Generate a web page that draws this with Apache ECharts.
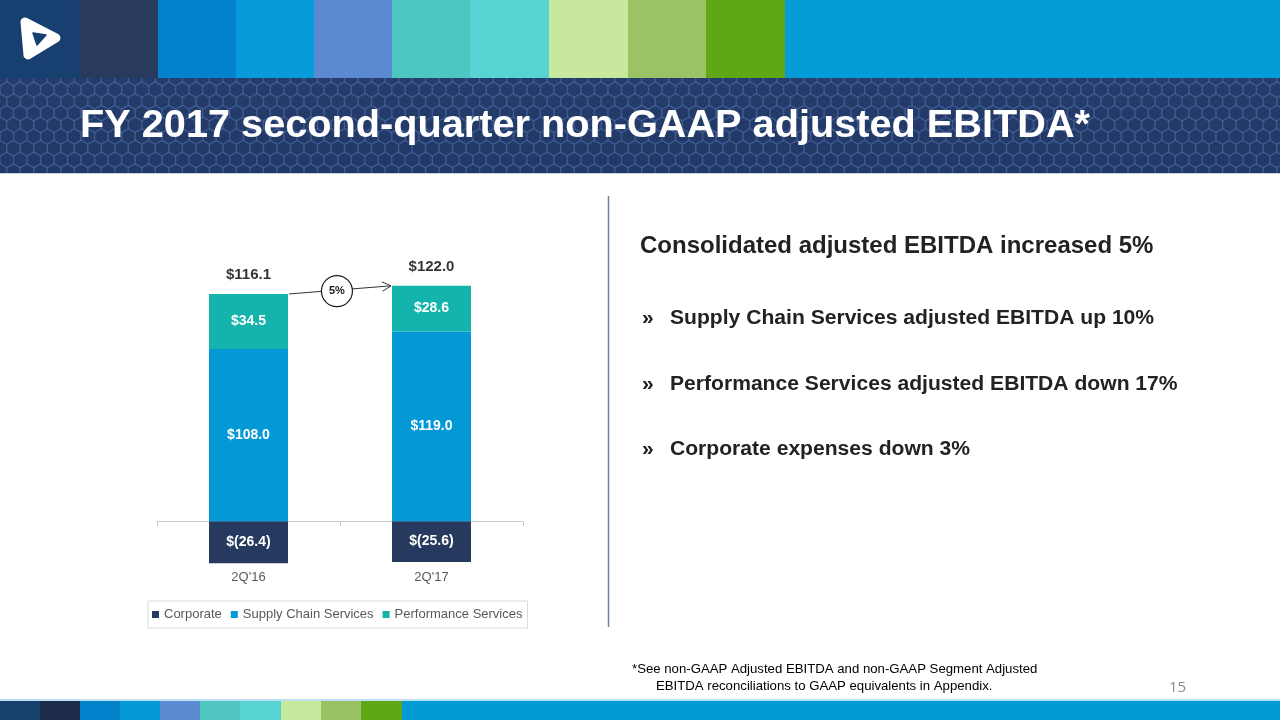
<!DOCTYPE html>
<html><head><meta charset="utf-8">
<script src="https://cdn.jsdelivr.net/npm/echarts@6/dist/echarts.min.js"></script>
<style>html,body{margin:0;padding:0;background:#fff}#c{width:1280px;height:720px}</style>
</head><body><div id="c"></div>
<script>
// ---- data ----
const categories = ["2Q'16", "2Q'17"];
const seriesNames = ['Corporate', 'Supply Chain Services', 'Performance Services'];
const corporate = [-26.4, -25.6];
const supplyChain = [108.0, 119.0];
const performance = [34.5, 28.6];
const totals = [116.1, 122.0];
const growthLabel = '5%';
const titleText = 'FY 2017 second-quarter non-GAAP adjusted EBITDA*';
const headline = 'Consolidated adjusted EBITDA increased 5%';
const bullets = [
  'Supply Chain Services adjusted EBITDA up 10%',
  'Performance Services adjusted EBITDA down 17%',
  'Corporate expenses down 3%'
];
const footLines = [
  '*See non-GAAP Adjusted EBITDA and non-GAAP Segment Adjusted',
  'EBITDA reconciliations to GAAP equivalents in Appendix.'
];
const pageNumber = '15';

// ---- styling ----
const FONT = '"Liberation Sans", Arial, sans-serif';
const colCorp = '#253a5e', colSupply = '#0499d6', colPerf = '#14b4ad';
const BAR_W = 79;
const topBlocks = [
  [0, 79, '#173f6f'], [79, 79, '#283a5e'], [158, 78, '#0383cd'], [236, 78, '#079bd9'],
  [314, 78, '#5b8ad1'], [392, 78, '#4ec6c1'], [470, 79, '#56d3d2'], [549, 79, '#c7e89d'],
  [628, 78, '#99c364'], [706, 79, '#5fa716'], [785, 495, '#059bd6']
];
const botBlocks = [
  [0, 40, '#17416f'], [40, 40, '#1c2b47'], [80, 40, '#0381cb'], [120, 40, '#0698d7'],
  [160, 40, '#5b8bd0'], [200, 40, '#50c6c0'], [240, 41, '#57d3d2'], [281, 40, '#c7e99d'],
  [321, 40, '#99c264'], [361, 41, '#60a717'], [402, 878, '#039bd6']
];

function hexCanvas(w, h) {
  const c = document.createElement('canvas');
  c.width = w; c.height = h;
  const g = c.getContext('2d');
  const grd = g.createLinearGradient(0, 0, 0, h);
  grd.addColorStop(0, '#253d6c'); grd.addColorStop(1, '#223866');
  g.fillStyle = grd; g.fillRect(0, 0, w, h);
  const r = 7.8, hw = Math.sqrt(3) * r, vs = 1.5 * r;
  g.strokeStyle = 'rgba(78,110,168,0.38)'; g.lineWidth = 1.4;
  for (let row = -1; row * vs < h + r; row++) {
    const off = (row % 2 ? hw / 2 : 0);
    for (let col = -1; col * hw < w + hw; col++) {
      const cx = col * hw + off, cy = row * vs;
      g.beginPath();
      for (let k = 0; k < 6; k++) {
        const a = Math.PI / 180 * (60 * k - 90);
        const px = cx + r * Math.cos(a), py = cy + r * Math.sin(a);
        k ? g.lineTo(px, py) : g.moveTo(px, py);
      }
      g.closePath(); g.stroke();
    }
  }
  return c;
}

const chart = echarts.init(document.getElementById('c'), null, { renderer: 'canvas' });

const graphics = [];
topBlocks.forEach(b => graphics.push({ type: 'rect', silent: true, shape: { x: b[0], y: 0, width: b[1], height: 78 }, style: { fill: b[2] } }));
graphics.push({ type: 'image', silent: true, style: { image: hexCanvas(1280, 95), x: 0, y: 78, width: 1280, height: 95 } });
graphics.push({ type: 'rect', silent: true, shape: { x: 0, y: 173, width: 1280, height: 1 }, style: { fill: '#c9d1de' } });
// logo
graphics.push({ type: 'polygon', silent: true, shape: { points: [[25, 22], [56, 38], [28, 55]] }, style: { fill: '#ffffff', stroke: '#ffffff', lineWidth: 9, lineJoin: 'round' } });
graphics.push({ type: 'polygon', silent: true, shape: { points: [[33, 33], [46, 35], [37, 45]] }, style: { fill: '#173f6f', stroke: '#173f6f', lineWidth: 1.5, lineJoin: 'round' } });
graphics.push({ type: 'text', silent: true, style: { text: titleText, x: 80, y: 126, font: 'bold 39.7px ' + FONT, fill: '#ffffff', textVerticalAlign: 'middle' } });
// divider
graphics.push({ type: 'line', silent: true, shape: { x1: 608.5, y1: 196, x2: 608.5, y2: 627 }, style: { stroke: '#6f82a6', lineWidth: 1.5 } });
// right text
graphics.push({ type: 'text', silent: true, style: { text: headline, x: 640, y: 246, font: 'bold 24px ' + FONT, fill: '#222222', textVerticalAlign: 'middle' } });
const bulletY = [318, 384, 449];
bullets.forEach((t, i) => {
  graphics.push({ type: 'text', silent: true, style: { text: '»', x: 642, y: bulletY[i], font: 'bold 21px ' + FONT, fill: '#222222', textVerticalAlign: 'middle' } });
  graphics.push({ type: 'text', silent: true, style: { text: t, x: 670, y: bulletY[i], font: 'bold 21.1px ' + FONT, fill: '#222222', textVerticalAlign: 'middle' } });
});
// footnote
graphics.push({ type: 'text', silent: true, style: { text: footLines[0], x: 632, y: 669, font: '13.2px ' + FONT, fill: '#000000', textVerticalAlign: 'middle' } });
graphics.push({ type: 'text', silent: true, style: { text: footLines[1], x: 656, y: 686, font: '13.2px ' + FONT, fill: '#000000', textVerticalAlign: 'middle' } });
graphics.push({ type: 'text', silent: true, style: { text: pageNumber, x: 1169, y: 688, font: '15px "Open Sans", sans-serif', fill: '#8c8c8c', textVerticalAlign: 'middle' } });
// bottom bar
graphics.push({ type: 'rect', silent: true, shape: { x: 0, y: 699, width: 1280, height: 2 }, style: { fill: '#bde0f2' } });
botBlocks.forEach(b => graphics.push({ type: 'rect', silent: true, shape: { x: b[0], y: 701, width: b[1], height: 19 }, style: { fill: b[2] } }));

const fmtVal = v => v < 0 ? '$(' + Math.abs(v).toFixed(1) + ')' : '$' + v.toFixed(1);
const innerLabel = { show: true, position: 'inside', color: '#ffffff', fontFamily: FONT, fontWeight: 'bold', fontSize: 14, formatter: p => fmtVal(p.value) };

const option = {
  animation: false,
  backgroundColor: '#ffffff',
  grid: { left: 157, width: 366, top: 282, height: 287, containLabel: false, outerBoundsMode: 'none' },
  legend: {
    data: seriesNames, left: 148, top: 601, orient: 'horizontal',
    icon: 'rect', itemWidth: 7, itemHeight: 7, itemGap: 9,
    padding: [7, 5, 7, 4], borderColor: '#d9d9d9', borderWidth: 1,
    textStyle: { fontFamily: FONT, fontSize: 13, color: '#595959' },
    selectedMode: false
  },
  xAxis: [
    { type: 'category', data: categories, axisLine: { onZero: true, lineStyle: { color: '#c8c8c8', width: 1 } },
      axisTick: { show: true, length: 5, lineStyle: { color: '#c8c8c8' } }, axisLabel: { show: false }, splitLine: { show: false } },
    { type: 'category', data: categories, position: 'bottom', axisLine: { show: false }, axisTick: { show: false },
      axisLabel: { show: true, margin: 2, color: '#595959', fontFamily: FONT, fontSize: 13 } }
  ],
  yAxis: { type: 'value', min: -30, max: 150, show: false, splitLine: { show: false } },
  series: [
    { name: seriesNames[0], type: 'bar', stack: 'ebitda', barWidth: BAR_W, data: corporate, itemStyle: { color: colCorp }, label: innerLabel },
    { name: seriesNames[1], type: 'bar', stack: 'ebitda', barWidth: BAR_W, data: supplyChain, itemStyle: { color: colSupply }, label: innerLabel },
    { name: seriesNames[2], type: 'bar', stack: 'ebitda', barWidth: BAR_W, data: performance, itemStyle: { color: colPerf }, label: innerLabel },
    { name: 'Total', type: 'scatter', symbolSize: 1, itemStyle: { color: 'rgba(0,0,0,0)' },
      data: supplyChain.map((v, i) => v + performance[i]),
      label: { show: true, position: 'top', distance: 11, color: '#000000', textBorderWidth: 0, fontFamily: FONT, fontWeight: 'bold', fontSize: 15,
        formatter: p => '$' + totals[p.dataIndex].toFixed(1) } }
  ],
  graphic: { elements: graphics }
};
chart.setOption(option);

// growth arrow between stack tops
const top0 = chart.convertToPixel({ xAxisIndex: 0, yAxisIndex: 0 }, [0, supplyChain[0] + performance[0]]);
const top1 = chart.convertToPixel({ xAxisIndex: 0, yAxisIndex: 0 }, [1, supplyChain[1] + performance[1]]);
const p1 = [top0[0] + BAR_W / 2 + 1, top0[1]];
const p2 = [top1[0] - BAR_W / 2 - 1, top1[1]];
const dx = p2[0] - p1[0], dy = p2[1] - p1[1], L = Math.hypot(dx, dy), ux = dx / L, uy = dy / L;
const ang = 28 * Math.PI / 180, hl = 10;
const h1 = [p2[0] - hl * (ux * Math.cos(ang) - uy * Math.sin(ang)), p2[1] - hl * (uy * Math.cos(ang) + ux * Math.sin(ang))];
const h2 = [p2[0] - hl * (ux * Math.cos(-ang) - uy * Math.sin(-ang)), p2[1] - hl * (uy * Math.cos(-ang) + ux * Math.sin(-ang))];
const mid = [p1[0] + dx * 0.47, p1[1] + dy * 0.47 + 1];
const arrowEls = [
  { type: 'line', silent: true, shape: { x1: p1[0], y1: p1[1], x2: p2[0], y2: p2[1] }, style: { stroke: '#333333', lineWidth: 1 } },
  { type: 'polyline', silent: true, shape: { points: [h1, p2, h2] }, style: { stroke: '#333333', lineWidth: 1, fill: null } },
  { type: 'circle', silent: true, shape: { cx: mid[0], cy: mid[1], r: 15.5 }, style: { fill: '#ffffff', stroke: '#1a1a1a', lineWidth: 1.2 } },
  { type: 'text', silent: true, style: { text: growthLabel, x: mid[0], y: mid[1], font: 'bold 11px ' + FONT, fill: '#1a1a1a', textAlign: 'center', textVerticalAlign: 'middle' } }
];
chart.setOption({ graphic: { elements: graphics.concat(arrowEls) } });
</script>
</body></html>
